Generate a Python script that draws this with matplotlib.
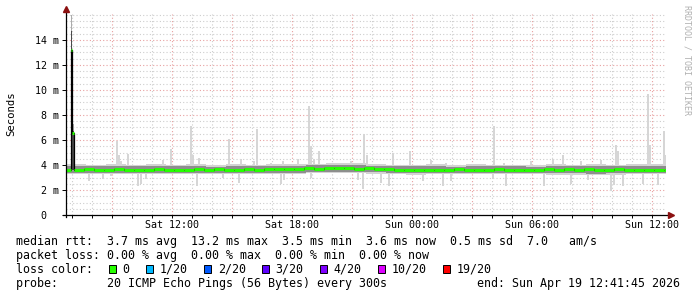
import matplotlib
matplotlib.use("Agg")
import matplotlib.pyplot as plt
import numpy as np
from matplotlib.patches import Rectangle

W, H = 697, 297
MONO = "DejaVu Sans Mono"

# hours since Sat 00:00; window ends Sun 12:41:45, 30 h long
t_end = 36 + 41 / 60 + 45 / 3600
t_start = t_end - 30

# median rtt in ms: start of window, the spike, then 30 min bins from 7.10 h
first_med = 3.60
spike_med_h = [6.93, 7.01]
spike_med = [13.2, 6.6]
bins_from = 7.10
median_ms = [3.62, 3.66, 3.60, 3.64, 3.68, 3.62, 3.58, 3.63, 3.66, 3.61,
             3.64, 3.60, 3.65, 3.62, 3.67, 3.63, 3.60, 3.66, 3.64, 3.69, 3.66, 3.70,
             3.72, 3.75, 3.70, 3.76, 3.78, 3.74, 3.71, 3.75, 3.72, 3.66, 3.62, 3.60,
             3.63, 3.60, 3.58, 3.62, 3.65, 3.61, 3.57, 3.63, 3.66, 3.62, 3.64, 3.60,
             3.62, 3.65, 3.60, 3.67, 3.63, 3.66, 3.58, 3.62, 3.65, 3.61, 3.59, 3.64, 3.62, 3.60]

# smoke envelope per hour (ms)
outer_hi = [4.05, 4.02, 4.08, 4.04, 4.06, 4.03, 4.05, 4.02, 4.07, 4.04, 4.06, 4.05, 4.12, 4.15, 4.13,
            4.10, 4.04, 4.03, 4.05, 4.02, 4.06, 4.03, 4.04, 4.02, 4.05, 4.03, 4.06, 4.04, 4.08, 4.05]
outer_lo = [3.28, 3.25, 3.30, 3.26, 3.29, 3.27, 3.25, 3.30, 3.27, 3.28, 3.26, 3.29, 3.34, 3.36, 3.33,
            3.30, 3.26, 3.24, 3.27, 3.25, 3.28, 3.26, 3.25, 3.27, 3.22, 3.24, 3.20, 3.23, 3.26, 3.28]
core_hi = [3.91, 3.89, 3.93, 3.90, 3.92, 3.89, 3.91, 3.88, 3.93, 3.90, 3.92, 3.91, 3.98, 4.01, 3.99,
           3.95, 3.90, 3.89, 3.91, 3.88, 3.91, 3.89, 3.90, 3.88, 3.91, 3.89, 3.92, 3.90, 3.93, 3.91]
core_lo = [3.39, 3.37, 3.40, 3.38, 3.39, 3.37, 3.36, 3.40, 3.38, 3.39, 3.37, 3.40, 3.45, 3.48, 3.45,
           3.42, 3.37, 3.35, 3.38, 3.36, 3.39, 3.37, 3.36, 3.38, 3.33, 3.35, 3.32, 3.34, 3.37, 3.39]

# single 5 min samples sticking out of the smoke
spike_h = [9.22, 9.30, 9.40, 9.75, 11.50, 11.90, 12.90, 13.02, 13.30, 14.80, 15.40, 16.05, 16.20,
           16.90, 17.50, 18.25, 18.80, 18.90, 19.05, 19.30, 20.90, 21.55, 21.70, 23.00, 23.85,
           24.90, 25.65, 28.05, 28.55, 29.90, 31.00, 31.50, 32.40, 33.40, 34.15, 34.25, 35.75,
           35.85, 36.55, 36.62]
spike_top = [5.9, 4.8, 4.3, 4.9, 4.4, 5.3, 7.1, 4.8, 4.6, 6.1, 4.5, 4.3, 6.9,
             4.2, 4.3, 4.5, 8.7, 5.5, 4.5, 5.1, 4.3, 6.5, 4.8, 5.0, 5.1,
             4.4, 4.2, 7.1, 4.2, 4.3, 4.5, 4.8, 4.3, 4.4, 5.6, 5.1, 9.7,
             5.6, 6.7, 4.8]
dip_h = [7.80, 8.50, 8.90, 10.25, 10.40, 10.65, 13.20, 14.50, 15.30, 17.40, 17.55, 18.90, 21.25,
         21.50, 22.40, 22.80, 24.50, 25.50, 25.90, 28.00, 28.65, 30.55, 31.90, 32.75, 33.90,
         34.05, 34.50, 35.50, 36.25]
dip_bot = [2.7, 2.9, 3.1, 2.3, 2.5, 2.9, 2.3, 3.0, 2.6, 2.5, 2.8, 3.0, 2.8,
           2.1, 2.6, 2.3, 2.7, 2.3, 2.7, 2.9, 2.3, 2.3, 2.5, 2.8, 1.9,
           2.4, 2.3, 2.5, 2.4]

# the spike at the start of the window
big_h = [6.93, 7.01]
big_top = [16.0, 7.3]
big_core = [14.7, 6.7]
big_w = [0.08, 0.09]

x_label_hours = [12, 18, 24, 30, 36]
x_labels = ["Sat 12:00", "Sat 18:00", "Sun 00:00", "Sun 06:00", "Sun 12:00"]
y_ticks = [0, 2, 4, 6, 8, 10, 12, 14]
y_labels = ["0  ", "2 m", "4 m", "6 m", "8 m", "10 m", "12 m", "14 m"]

loss_labels = ["0", "1/20", "2/20", "3/20", "4/20", "10/20", "19/20"]
loss_colors = ["#26ff00", "#00b8ff", "#0059ff", "#5e00ff", "#7e00ff", "#dd00ff", "#ff0000"]

fig = plt.figure(figsize=(W / 100, H / 100), dpi=100)
fig.patch.set_facecolor("white")
ax = fig.add_axes([66 / W, 1 - 215 / H, 600 / W, 201 / H])
ax.set_xlim(t_start, t_end)
ax.set_ylim(0, 201 / 12.5)

# smoke
hour_edges = np.append(t_start + np.arange(len(outer_hi)), t_end)
ax.fill_between(hour_edges, np.append(outer_lo, outer_lo[-1]), np.append(outer_hi, outer_hi[-1]),
                step="post", color="#d3d3d3", lw=0, zorder=1)
ax.bar(spike_h, np.array(spike_top) - 3.7, bottom=3.7, width=1 / 12, align="edge",
       color="#d6d6d6", lw=0, zorder=1.2)
ax.bar(dip_h, 3.6 - np.array(dip_bot), bottom=dip_bot, width=1 / 12, align="edge",
       color="#d6d6d6", lw=0, zorder=1.2)
ax.fill_between(hour_edges, np.append(core_lo, core_lo[-1]), np.append(core_hi, core_hi[-1]),
                step="post", color="#8e8e8e", lw=0, zorder=1.5)
ax.bar(big_h, np.array(big_top) - 3.5, bottom=3.5, width=big_w, align="edge",
       color="#ababab", lw=0, zorder=1.6)
ax.bar(big_h, np.array(big_core) - 3.6, bottom=3.6, width=big_w, align="edge",
       color="#4a4a4a", lw=0, zorder=1.7)

# median line
med_h = np.concatenate([[t_start], spike_med_h, bins_from + 0.5 * np.arange(len(median_ms))])
med_v = np.concatenate([[first_med], spike_med, median_ms])
med_edges = np.append(med_h, t_end)
ax.step(med_edges, np.append(med_v, med_v[-1]), where="post", color="black", lw=0.9, zorder=3)
ax.hlines(med_v, med_edges[:-1], med_edges[1:], colors=loss_colors[0], lw=2.2, zorder=4)

# grid
ax.set_xticks(np.arange(9, 37, 3))
ax.set_xticklabels([x_labels[x_label_hours.index(h)] if h in x_label_hours else ""
                    for h in range(9, 37, 3)])
ax.set_xticks(np.arange(7, 37, 1), minor=True)
ax.set_yticks(y_ticks)
ax.set_yticklabels(y_labels)
ax.set_yticks(np.arange(0.5, 16.1, 0.5), minor=True)
ax.set_axisbelow(True)
ax.grid(which="minor", color="#cdcdcd", linestyle=(0, (1, 2)), lw=0.8)
ax.grid(which="major", color="#e8a0a0", linestyle=(0, (1, 2)), lw=0.8)
ax.tick_params(axis="both", which="both", direction="out", color="black", width=0.7,
               labelsize=7.2, labelfontfamily=MONO, labelcolor="black")
ax.tick_params(axis="x", which="both", length=2, pad=1.5)
ax.tick_params(axis="y", which="major", length=3, pad=2)
ax.tick_params(axis="y", which="minor", length=0)
for s in ax.spines.values():
    s.set_visible(False)

# axis lines with arrows
ax.plot([0, 0], [-2 / 201, 1 + 5 / 201], transform=ax.transAxes, color="black", lw=0.9,
        clip_on=False, zorder=5)
ax.plot([-3 / 600, 1 + 4 / 600], [0, 0], transform=ax.transAxes, color="black", lw=0.9,
        clip_on=False, zorder=5)
ax.plot([0], [1 + 5 / 201], transform=ax.transAxes, marker="^", ms=4.5, color="#8b1010",
        clip_on=False, zorder=6)
ax.plot([1 + 4.5 / 600], [0], transform=ax.transAxes, marker=">", ms=4.5, color="#8b1010",
        clip_on=False, zorder=6)

fig.text(11 / W, 1 - 114 / H, "Seconds", rotation=90, ha="center", va="center",
         family=MONO, fontsize=7.7)
fig.text(687 / W, 1 - 5 / H, "RRDTOOL / TOBI OETIKER", rotation=270, ha="center", va="top",
         family=MONO, fontsize=6, color="#b0b0b0")

# legend block
fs = 8.4
cw = 7.0
fig.text(16 / W, 1 - 245.5 / H,
         "median rtt:  3.7 ms avg  13.2 ms max  3.5 ms min  3.6 ms now  0.5 ms sd  7.0   am/s",
         family=MONO, fontsize=fs, va="baseline")
fig.text(16 / W, 1 - 259.2 / H, "packet loss: 0.00 % avg  0.00 % max  0.00 % min  0.00 % now",
         family=MONO, fontsize=fs, va="baseline")
fig.text(16 / W, 1 - 272.9 / H, "loss color:", family=MONO, fontsize=fs, va="baseline")
cursor = 108.7
for lab, col in zip(loss_labels, loss_colors):
    fig.add_artist(Rectangle((cursor / W, 1 - 273.3 / H), 7 / W, 8 / H, transform=fig.transFigure,
                             facecolor=col, edgecolor="black", lw=0.7))
    fig.text((cursor + 14) / W, 1 - 272.9 / H, lab, family=MONO, fontsize=fs, va="baseline")
    cursor += 14 + cw * len(lab) + 16
fig.text(16 / W, 1 - 286.6 / H, "probe:       20 ICMP Echo Pings (56 Bytes) every 300s",
         family=MONO, fontsize=fs, va="baseline")
fig.text(680 / W, 1 - 286.6 / H, "end: Sun Apr 19 12:41:45 2026", family=MONO, fontsize=fs,
         va="baseline", ha="right")

fig.savefig("out.png", dpi=100, facecolor="white")
